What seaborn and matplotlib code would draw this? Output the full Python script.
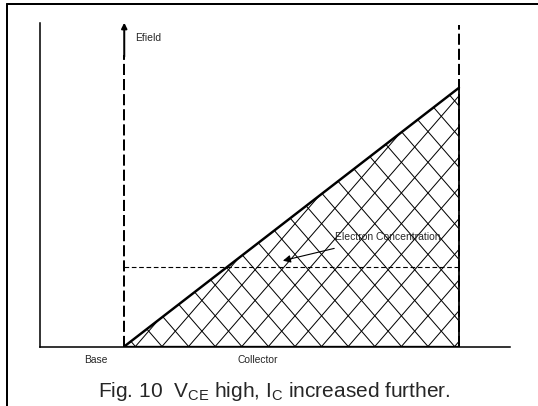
"""
Fig. 10: campo eléctrico en la unión base-colector (V_CE alto, I_C aumentada)
"""
import matplotlib
matplotlib.use('Agg')
import matplotlib.pyplot as plt
from matplotlib.lines import Line2D
from matplotlib.collections import LineCollection
import seaborn as sns

# Posiciones normalizadas a lo largo del dispositivo (0 = inicio de la base)
junction_x = 0.180      # union base-colector
collector_end_x = 0.891  # fin del colector
# Perfil del campo eléctrico (triángulo)
efield_x = [0.180, 0.891]
efield_y = [0.0, 0.799]
# Nivel de concentración de electrones
electron_level = 0.246
collector_top = 0.993
# Etiquetas de regiones
region_labels = ['Base', 'Collector']
region_label_x = [0.120, 0.463]
caption = r"Fig. 10  V$_\mathregular{CE}$ high, I$_\mathregular{C}$ increased further."

DPI = 160
AX_W, AX_H = 470.8, 323.8      # tamaño de los ejes en pixeles
HATCH_DX, HATCH_DY = 26.6, 30.7  # paso del cuadriculado en pixeles

sns.set_theme(style='white')
plt.rcParams['font.family'] = ['Liberation Sans', 'DejaVu Sans']
plt.rcParams['lines.scale_dashes'] = False

fig = plt.figure(figsize=(538 / DPI, 406 / DPI), dpi=DPI)
ax = fig.add_axes([39.5 / 538, 59.5 / 406, AX_W / 538, AX_H / 406])
ax.set_xlim(0, 1)
ax.set_ylim(0, 1)
ax.set_xticks([])
ax.set_yticks([])
sns.despine(ax=ax)
for side in ['left', 'bottom']:
    ax.spines[side].set_color('black')
    ax.spines[side].set_linewidth(0.7)

# Región sombreada: cuadriculado diagonal recortado al triángulo
poly = ax.fill_between(efield_x, 0, efield_y, facecolor='none', linewidth=0)
sx, sy = HATCH_DX / AX_W, HATCH_DY / AX_H
x0 = (295 - 39.5) / AX_W
segs = []
for k in range(-25, 26):
    segs.append([(x0 + sx * k, 0), (x0 + sx * (k + 1 / sy), 1)])
    segs.append([(x0 + sx * k, 0), (x0 + sx * (k - 1 / sy), 1)])
hatch = LineCollection(segs, colors='black', linewidths=0.45)
ax.add_collection(hatch)
hatch.set_clip_path(poly.get_paths()[0], ax.transData)

# Borde del triángulo
sns.lineplot(x=efield_x, y=efield_y, color='black', linewidth=1.1,
             sort=False, estimator=None, ax=ax)
ax.plot([junction_x, collector_end_x], [0, 0], color='black', linewidth=1.5,
        solid_capstyle='butt')
ax.plot([collector_end_x, collector_end_x], [0, efield_y[-1]], color='black',
        linewidth=0.8)

# Líneas discontinuas verticales
ax.plot([junction_x, junction_x], [0, 0.90], color='black', linewidth=0.9,
        linestyle=(0, (5, 1.8)))
ax.plot([collector_end_x, collector_end_x], [0, collector_top], color='black',
        linewidth=0.9, linestyle=(0, (5, 1.8)))
ax.annotate('', xy=(junction_x, 1.0), xytext=(junction_x, 0.895),
            arrowprops=dict(arrowstyle='-|>', color='black', lw=0.9,
                            mutation_scale=5, shrinkA=0, shrinkB=0),
            annotation_clip=False)

# Nivel de electrones
ax.plot([junction_x, collector_end_x], [electron_level, electron_level],
        color='black', linewidth=0.5, linestyle=(0, (2.1, 1.2)))

# Textos
ax.text(0.204, 0.944, 'Efield', fontsize=4.7, va='baseline', ha='left')
ax.text(0.628, 0.329, 'Electron Concentration', fontsize=4.7, va='baseline',
        ha='left')
ax.annotate('', xy=(0.517, 0.265), xytext=(0.626, 0.303),
            arrowprops=dict(arrowstyle='-|>', color='black', lw=0.5,
                            mutation_scale=7, shrinkA=0, shrinkB=0))

for lbl, x in zip(region_labels, region_label_x):
    ax.text(x, -0.051, lbl, fontsize=4.6, ha='center', va='baseline',
            transform=ax.transAxes)

fig.text(274.6 / 538, (406 - 397.3) / 406, caption, fontsize=9.4,
         ha='center', va='baseline')

# Marco exterior
fx = 7.2 / 538
fy = (406 - 4.3) / 406
fig.add_artist(Line2D([fx, fx], [0, fy], color='black', linewidth=0.9,
                      transform=fig.transFigure))
fig.add_artist(Line2D([fx, 1.0], [fy, fy], color='black', linewidth=0.9,
                      transform=fig.transFigure))

fig.savefig('out.png', dpi=DPI)
